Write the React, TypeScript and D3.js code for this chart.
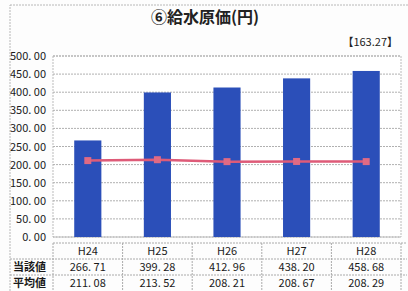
import React, { useEffect, useRef } from 'react';
import * as d3 from 'd3';

const years = ['H24', 'H25', 'H26', 'H27', 'H28'];
const actualValues = [266.71, 399.28, 412.96, 438.2, 458.68];
const averageValues = [211.08, 213.52, 208.21, 208.67, 208.29];
const yTicks = [0, 50, 100, 150, 200, 250, 300, 350, 400, 450, 500];
const rowLabels = ['当該値', '平均値'];
const title = '⑥給水原価(円)';
const reference = '【163.27】';

const W = 408;
const H = 291;

const fmt = (v: number) => d3.format('.2f')(v).replace('.', '. ');

const App: React.FC = () => {
   const svgRef = useRef<SVGSVGElement | null>(null);

   useEffect(() => {
      if (!svgRef.current) return;
      const svg = d3.select(svgRef.current);
      svg.selectAll('*').remove();

      const font = '"Noto Sans CJK JP", "DejaVu Sans", sans-serif';
      const plot = { left: 53, right: 401, top: 56, bottom: 237 };

      svg.append('rect').attr('width', W).attr('height', H).attr('fill', '#fdfdfd');

      // outer frame
      svg.append('rect')
         .attr('x', 10).attr('y', 5)
         .attr('width', W + 10).attr('height', H + 10)
         .attr('fill', 'none')
         .attr('stroke', '#b8b8b8')
         .attr('stroke-dasharray', '2,1');

      svg.append('text')
         .attr('x', 205).attr('y', 23)
         .attr('text-anchor', 'middle')
         .attr('font-family', font)
         .attr('font-weight', 'bold')
         .attr('font-size', 16)
         .attr('fill', '#222')
         .text(title);

      svg.append('text')
         .attr('x', 398).attr('y', 46)
         .attr('text-anchor', 'end')
         .attr('font-family', font)
         .attr('font-size', 11)
         .attr('fill', '#222')
         .text(reference);

      const x = d3.scaleBand()
         .domain(years)
         .range([plot.left, plot.right])
         .paddingInner(0.61)
         .paddingOuter(0.305);

      const band = d3.scaleBand()
         .domain(years)
         .range([plot.left, plot.right]);

      const y = d3.scaleLinear().domain([0, 500]).range([plot.bottom, plot.top]);

      // plot box
      svg.append('rect')
         .attr('x', plot.left).attr('y', plot.top)
         .attr('width', plot.right - plot.left).attr('height', plot.bottom - plot.top)
         .attr('fill', '#fff')
         .attr('stroke', '#bbb')
         .attr('stroke-dasharray', '2,1');

      svg.append('g')
         .selectAll('line')
         .data(yTicks)
         .join('line')
         .attr('x1', plot.left).attr('x2', plot.right)
         .attr('y1', d => y(d)).attr('y2', d => y(d))
         .attr('stroke', '#b0b0b0')
         .attr('stroke-dasharray', '2,1');

      svg.append('g')
         .selectAll('text')
         .data(yTicks)
         .join('text')
         .attr('x', 46)
         .attr('y', d => y(d) + 4)
         .attr('text-anchor', 'end')
         .attr('font-family', font)
         .attr('font-size', 11)
         .attr('fill', '#1a1a1a')
         .text(d => fmt(d));

      // bars
      svg.append('g')
         .selectAll('rect')
         .data(actualValues)
         .join('rect')
         .attr('x', (_, i) => x(years[i])!)
         .attr('y', d => y(d))
         .attr('width', x.bandwidth())
         .attr('height', d => y(0) - y(d))
         .attr('fill', '#2b4fb9');

      // average line
      const cx = (i: number) => band(years[i])! + band.bandwidth() / 2;
      const line = d3.line<number>()
         .x((_, i) => cx(i))
         .y(d => y(d));

      svg.append('path')
         .datum(averageValues)
         .attr('d', line)
         .attr('fill', 'none')
         .attr('stroke', '#de5b78')
         .attr('stroke-width', 2.5);

      svg.append('g')
         .selectAll('rect')
         .data(averageValues)
         .join('rect')
         .attr('x', (_, i) => cx(i) - 3.5)
         .attr('y', d => y(d) - 3.5)
         .attr('width', 7).attr('height', 7)
         .attr('fill', '#e06a84');

      // table
      const rowTop = [243, 259, 275];
      const rowH = 16;
      const tbl = svg.append('g')
         .attr('font-family', font)
         .attr('font-size', 11)
         .attr('fill', '#1a1a1a');

      const grid = svg.append('g')
         .attr('stroke', '#aaa')
         .attr('stroke-dasharray', '2,1')
         .attr('fill', 'none');

      grid.append('line').attr('x1', plot.left).attr('x2', plot.right + 6).attr('y1', rowTop[0]).attr('y2', rowTop[0]);
      grid.append('line').attr('x1', 10).attr('x2', plot.right + 6).attr('y1', rowTop[1]).attr('y2', rowTop[1]);
      grid.append('line').attr('x1', 10).attr('x2', plot.right + 6).attr('y1', rowTop[2]).attr('y2', rowTop[2]);
      grid.append('line').attr('x1', plot.left).attr('x2', plot.left).attr('y1', rowTop[0]).attr('y2', H);
      grid.selectAll('.vline')
         .data(years)
         .join('line')
         .attr('class', 'vline')
         .attr('x1', d => band(d)! + band.bandwidth())
         .attr('x2', d => band(d)! + band.bandwidth())
         .attr('y1', rowTop[0]).attr('y2', H);

      tbl.selectAll('.hdr')
         .data(years)
         .join('text')
         .attr('class', 'hdr')
         .attr('x', d => band(d)! + band.bandwidth() / 2)
         .attr('y', rowTop[0] + rowH / 2 + 4)
         .attr('text-anchor', 'middle')
         .text(d => d);

      tbl.selectAll('.lbl')
         .data(rowLabels)
         .join('text')
         .attr('class', 'lbl')
         .attr('x', 13)
         .attr('y', (_, i) => rowTop[i + 1] + rowH / 2 + 4)
         .attr('font-weight', 'bold')
         .text(d => d);

      [actualValues, averageValues].forEach((vals, r) => {
         tbl.append('g')
            .selectAll('text')
            .data(vals)
            .join('text')
            .attr('x', (_, i) => cx(i))
            .attr('y', rowTop[r + 1] + rowH / 2 + 4)
            .attr('text-anchor', 'middle')
            .text(d => fmt(d));
      });
   }, []);

   return (
      <svg
         ref={svgRef}
         width={W}
         height={H}
         viewBox={`0 0 ${W} ${H}`}
         style={{ position: 'absolute', left: 0, top: 0, display: 'block' }}
      />
   );
};

export default App;
